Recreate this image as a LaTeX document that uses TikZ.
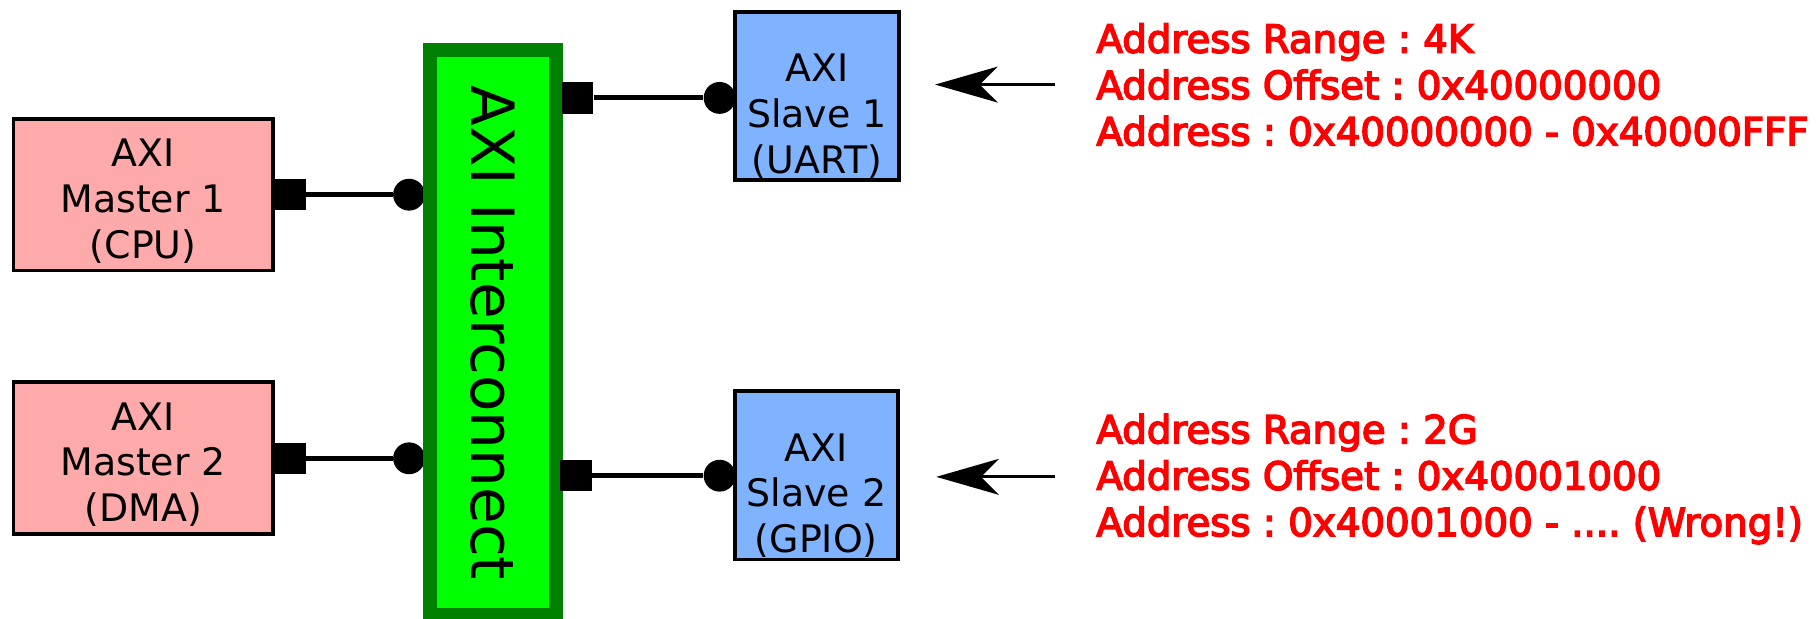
\documentclass[tikz,border=0pt]{standalone}
\usepackage{fontspec}
\setmainfont{DejaVu Sans}
\newfontfamily\addrfont[FakeBold=4]{DejaVu Sans}
\usetikzlibrary{arrows.meta,calc}
\definecolor{mpink}{HTML}{FFAAAA}
\definecolor{sblue}{HTML}{80B3FF}
\definecolor{icfill}{HTML}{00FF00}
\definecolor{icborder}{HTML}{008000}
\definecolor{addrred}{HTML}{FF0000}
\frenchspacing
\begin{document}
\begin{tikzpicture}[x=1pt,y=-1pt,
  ubox/.style={draw=black, line width=3.2pt, inner sep=0pt, rectangle},
  masterbox/.style={ubox, fill=mpink, minimum width=223.8pt, minimum height=131pt},
  slavebox/.style={ubox, fill=sblue, minimum width=141pt, minimum height=145pt},
  boxtext/.style={align=center, inner sep=0pt, font=\fontsize{32.7}{39.5}\selectfont},
  icbox/.style={draw=icborder, fill=icfill, line width=12pt, minimum width=487.6pt, minimum height=109pt, inner sep=0pt, font=\fontsize{51.5}{60}\selectfont, rotate=-90},
  portsq/.style={fill=black, rectangle, minimum size=27pt, inner sep=0pt},
  joint/.style={fill=black, circle, minimum size=27.5pt, inner sep=0pt},
  wire/.style={line width=4.2pt},
  pointer/.style={line width=2.7pt, -{Stealth[length=54pt, width=31pt, inset=15.5pt]}},
  addr/.style={text=addrred, font=\addrfont\fontsize{33.4}{40}\selectfont, inner sep=0pt, anchor=base west}
]
\useasboundingbox (0,0) rectangle (1568,534);
\fill[white] (0,0) rectangle (1568,534);

% masters
\node[masterbox] (m1) at (123.5,168) {};
\node[boxtext] (m1t) at ($(m1.center)+(0,5.7)$) {AXI\\Master 1\\(CPU)};
\node[masterbox] (m2) at (123.5,395.3) {};
\node[boxtext] (m2t) at ($(m2.center)+(0,5.7)$) {AXI\\Master 2\\(DMA)};

% slaves
\node[slavebox] (s1) at (705,82.8) {};
\node[boxtext] (s1t) at ($(s1.center)+(0,17.5)$) {AXI\\Slave 1\\(UART)};
\node[slavebox] (s2) at (704.5,410.2) {};
\node[boxtext] (s2t) at ($(s2.center)+(0,17.5)$) {AXI\\Slave 2\\(GPIO)};

% master ports
\node[portsq] (p1) at (250.5,168) {};
\node[joint] (c1) at (353,168) {};
\draw[wire] (p1) -- (c1);
\node[portsq] (p2) at (250.5,395.5) {};
\node[joint] (c2) at (353,395.5) {};
\draw[wire] (p2) -- (c2);

% interconnect
\node[icbox] (ic) at (425.5,287.2) {AXI Interconnect};

% slave ports
\node[portsq] (p3) at (498.5,84.5) {};
\node[joint] (c3) at (621,84.5) {};
\draw[wire] (p3) -- (c3);
\node[portsq] (p4) at (497,410.5) {};
\node[joint] (c4) at (621,410.5) {};
\draw[wire] (p4) -- (c4);

% pointers
\coordinate (t1) at (910,73);
\coordinate (h1) at (807,73);
\draw[pointer] (t1) -- (h1);
\coordinate (t2) at (910,411.5);
\coordinate (h2) at (808,411.5);
\draw[pointer] (t2) -- (h2);

% address texts
\node[addr] (a11) at (946,45.5) {Address Range : 4K};
\node[addr] (a12) at (946,85.5) {Address Offset : 0x40000000};
\node[addr] (a13) at (946,125.5) {Address : 0x40000000 - 0x40000FFF};
\node[addr] (a21) at (946,382.6) {Address Range : 2G};
\node[addr] (a22) at (946,422.6) {Address Offset : 0x40001000};
\node[addr] (a23) at (946,462.6) {Address : 0x40001000 - .... (Wrong!)};
\end{tikzpicture}
\end{document}
